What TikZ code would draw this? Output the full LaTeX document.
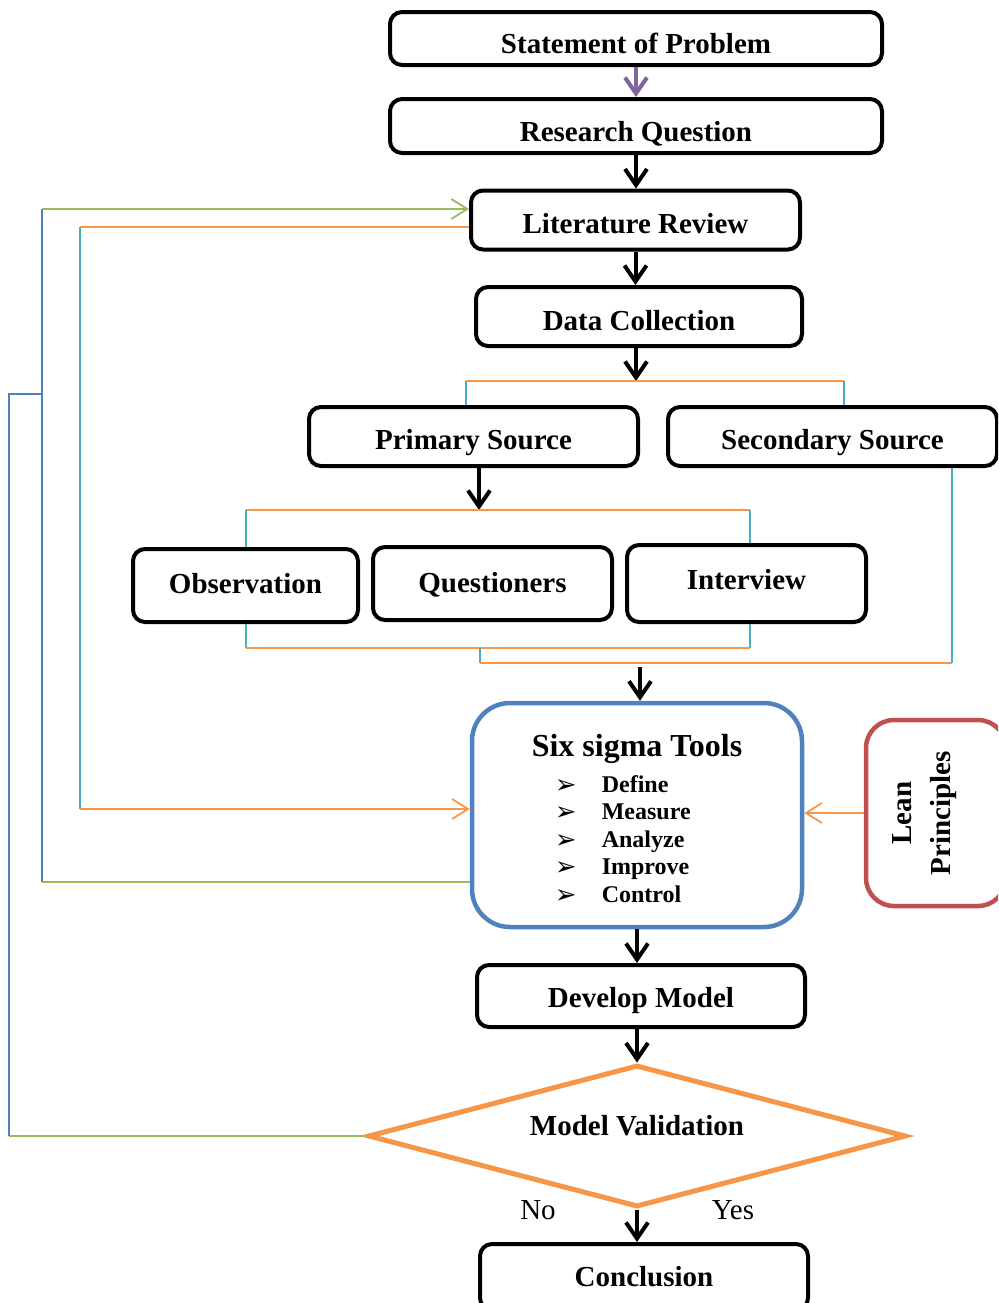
\documentclass[tikz,border=0pt]{standalone}
\usepackage{fontspec}
\setmainfont{Liberation Serif}
\newfontfamily\dingfont{DejaVu Sans}
\usetikzlibrary{arrows.meta,shapes.geometric}

\definecolor{ofOrange}{HTML}{F79646}
\definecolor{ofGreen}{HTML}{9BBB59}
\definecolor{ofBlue}{HTML}{4F81BD}
\definecolor{ofCyan}{HTML}{4BACC6}
\definecolor{ofRed}{HTML}{C0504D}
\definecolor{ofPurple}{HTML}{8064A2}

\newcommand{\itemmark}{\raisebox{-0.5pt}{\dingfont\fontsize{13}{14}\selectfont ➢}}

\begin{document}
\begin{tikzpicture}[x=0.5pt,y=-0.5pt,
  stepbox/.style={draw=black,line width=2pt,rounded corners=6pt,fill=white,
    inner sep=0pt,font=\fontsize{14.5}{17}\selectfont\bfseries,
    text height=#1,text depth=0pt},
  stepbox/.default=9.6pt,
  flow/.style={draw=black,line width=2pt,-{Straight Barb[length=8pt,width=11pt]}},
  thinline/.style={line width=0.9pt},
  thintip/.style={-{Straight Barb[length=8pt,width=10pt]}},
  lbl/.style={font=\fontsize{14.5}{17}\selectfont}
]
\useasboundingbox (0,0) rectangle (998,1303);
\clip (0,0) rectangle (998,1303);

% ---------- main column ----------
\node[stepbox=14.6pt,minimum width=246pt,minimum height=26.5pt] (sop) at (636,38.5) {Statement of Problem};
\node[stepbox=15.6pt,minimum width=246pt,minimum height=27pt] (rq) at (636,126) {Research Question};
\node[stepbox=13.6pt,minimum width=164.5pt,minimum height=29.5pt] (lit) at (635.5,220) {Literature Review};
\node[stepbox=13.6pt,minimum width=163pt,minimum height=29.5pt] (dc) at (639,316.5) {Data Collection};

\node[stepbox=13.1pt,minimum width=164.5pt,minimum height=29.5pt] (ps) at (473.5,436.5) {Primary Source};
\node[stepbox=13.1pt,minimum width=164.5pt,minimum height=29.5pt] (ss) at (832.5,436.5) {Secondary Source};

\node[stepbox=7.6pt,minimum width=112.5pt,minimum height=36.5pt] (obs) at (245.5,585.5) {Observation};
\node[stepbox=8.6pt,minimum width=119.5pt,minimum height=36.5pt] (que) at (492.5,583.5) {Questioners};
\node[stepbox=5.6pt,minimum width=119.5pt,minimum height=38.5pt] (int) at (746.5,583.5) {Interview};

% six sigma tools box
\node[draw=ofBlue,line width=2.25pt,rounded corners=19pt,fill=white,inner sep=0pt,
      minimum width=165pt,minimum height=112pt,
      font=\fontsize{12}{13.75}\selectfont\bfseries] (six) at (637,815) {%
  \begin{tabular}{@{}l@{}}
    \rule{0pt}{18.5pt}{\fontsize{16}{19}\selectfont Six sigma Tools}\\[4pt]
    \hspace{11.5pt}\makebox[23.5pt][l]{\itemmark}Define\\
    \hspace{11.5pt}\makebox[23.5pt][l]{\itemmark}Measure\\
    \hspace{11.5pt}\makebox[23.5pt][l]{\itemmark}Analyze\\
    \hspace{11.5pt}\makebox[23.5pt][l]{\itemmark}Improve\\
    \hspace{11.5pt}\makebox[23.5pt][l]{\itemmark}Control
  \end{tabular}};

% lean principles box (rotated text)
\node[draw=ofRed,line width=2.25pt,rounded corners=14pt,fill=white,inner sep=0pt,
      rotate=90,minimum width=93pt,minimum height=70pt,
      font=\fontsize{14.5}{19.5}\selectfont\bfseries,
      text height=33.15pt,text depth=19.05pt] (lean) at (936,813)
  {\begin{tabular}[b]{@{}c@{}}Lean\\Principles\end{tabular}};

\node[stepbox=11.6pt,minimum width=164pt,minimum height=31pt] (dev) at (641,996) {Develop Model};

\node[draw=ofOrange,line width=2.5pt,diamond,aspect=3.79,fill=white,inner sep=0pt,
      minimum width=269pt,minimum height=71pt,
      font=\fontsize{14.5}{17}\selectfont\bfseries,
      text height=9.6pt,text depth=10pt] (val) at (637,1136) {Model Validation};

\node[stepbox,minimum width=164pt,minimum height=33pt] (conc) at (644,1277) {Conclusion};

\node[lbl] (no) at (538,1210) {No};
\node[lbl] (yes) at (733,1210) {Yes};

% ---------- junction points ----------
\coordinate (splitTop) at (636,381);
\coordinate (brTL) at (466,381);
\coordinate (brTR) at (844,381);
\coordinate (splitMid) at (479,510);
\coordinate (brML) at (246,510);
\coordinate (brMR) at (750,510);
\coordinate (brBL) at (246,648);
\coordinate (brBR) at (750,648);
\coordinate (brBM) at (480,648);
\coordinate (mergeL) at (480,663);
\coordinate (mergeR) at (952,663);
\coordinate (intoSix) at (640,667);

% ---------- main flow arrows ----------
\draw[flow,draw=ofPurple] (sop) -- (rq);
\draw[flow] (rq) -- (rq |- lit.north);
\draw[flow] (lit) -- (lit |- dc.north);
\draw[flow] (dc.south -| splitTop) -- (splitTop);
\draw[flow] (ps.south -| splitMid) -- (splitMid);
\draw[flow] (intoSix) -- (intoSix |- six.north);
\draw[flow] (six.south -| 637,0) -- (637,0 |- dev.north);
\draw[flow] (dev.south -| 637,0) -- (val.north);
\draw[flow] (val.south) -- (val.south |- conc.north);

% ---------- brackets ----------
\draw[thinline,ofOrange] (brTL) -- (brTR);
\draw[thinline,ofCyan] (brTL) -- (brTL |- ps.north);
\draw[thinline,ofCyan] (brTR) -- (brTR |- ss.north);

\draw[thinline,ofOrange] (brML) -- (brMR);
\draw[thinline,ofCyan] (brML) -- (brML |- obs.north);
\draw[thinline,ofCyan] (brMR) -- (brMR |- int.north);

\draw[thinline,ofCyan] (obs.south -| brBL) -- (brBL);
\draw[thinline,ofCyan] (int.south -| brBR) -- (brBR);
\draw[thinline,ofOrange] (brBL) -- (brBR);
\draw[thinline,ofCyan] (brBM) -- (mergeL);
\draw[thinline,ofOrange] (mergeL) -- (mergeR);
\draw[thinline,ofCyan] (ss.south -| mergeR) -- (mergeR);

% ---------- lean principles into six sigma ----------
\draw[thinline,ofOrange,thintip] (lean.north) -- (lean.north -| six.east);

% ---------- feedback loops ----------
\coordinate (fbA) at (42,882);
\coordinate (fbB) at (42,209);
\coordinate (fbC) at (42,394);
\coordinate (fbD) at (9,394);
\coordinate (fbE) at (9,1136);
\coordinate (fbF) at (80,227);
\coordinate (fbG) at (80,809);

\draw[thinline,ofGreen] (six.west |- fbA) -- (fbA);
\draw[thinline,ofBlue] (fbA) -- (fbB);
\draw[thinline,ofGreen,thintip] (fbB) -- (lit.west |- fbB);

\draw[thinline,ofGreen] (val.west) -- (fbE);
\draw[thinline,ofBlue] (fbE) -- (fbD) -- (fbC);

\draw[thinline,ofOrange] (lit.west |- fbF) -- (fbF);
\draw[thinline,ofCyan] (fbF) -- (fbG);
\draw[thinline,ofOrange,thintip] (fbG) -- (six.west |- fbG);
\end{tikzpicture}
\end{document}
